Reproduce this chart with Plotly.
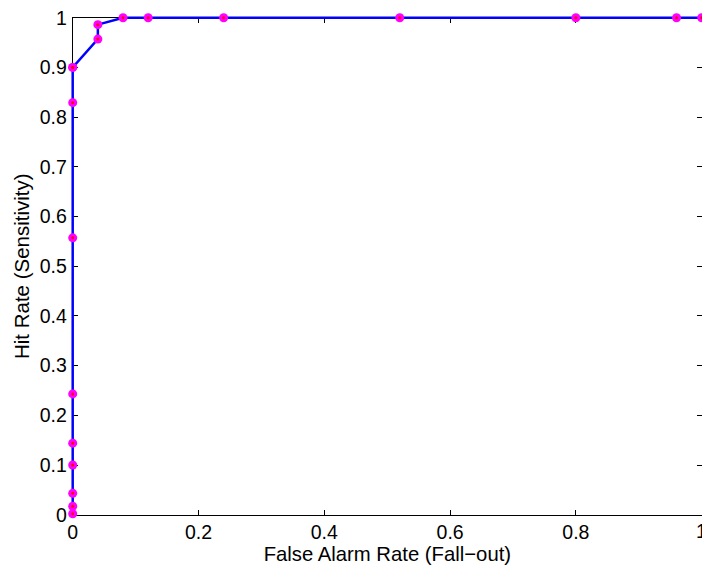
import plotly.graph_objects as go

# ROC operating points
false_alarm = [0, 0, 0, 0, 0, 0, 0, 0, 0, 0, 0.04, 0.04, 0.08, 0.12, 0.24, 0.52, 0.80, 0.96, 1.0]
hit_rate = [0.002, 0.017, 0.043, 0.100, 0.144, 0.243, 0.557, 0.829, 0.900, 0.900,
            0.957, 0.986, 1.0, 1.0, 1.0, 1.0, 1.0, 1.0, 1.0]

x_ticks = [0, 0.2, 0.4, 0.6, 0.8, 1]
x_tick_text = ["0", "0.2", "0.4", "0.6", "0.8", "1"]
y_ticks = [0, 0.1, 0.2, 0.3, 0.4, 0.5, 0.6, 0.7, 0.8, 0.9, 1]
y_tick_text = ["0", "0.1", "0.2", "0.3", "0.4", "0.5", "0.6", "0.7", "0.8", "0.9", "1"]

FONT = "Liberation Sans, Arial, sans-serif"
TICK_SIZE = 19.5

# page geometry (px)
W, H = 702, 567
M_L, M_R, M_T, M_B = 70, 0, 15, 49
AX_LEFT = 72.7                      # where x = 0 falls
AX_TOP, AX_BOTTOM = 17.7, 514.7     # where y = 1 and y = 0 fall
X_HI = 1.0005                       # x value at the right page edge

plot_w = W - M_L - M_R
plot_h = H - M_T - M_B
px_per_x = (W - M_R - AX_LEFT) / X_HI
px_per_y = AX_BOTTOM - AX_TOP

# data axes fill the whole plot area, with a little slack so the curve is not
# clipped where it runs along the frame
x_data_range = [-(AX_LEFT - M_L) / px_per_x, X_HI]
y_data_range = [-((H - M_B) - AX_BOTTOM) / px_per_y, 1 + (AX_TOP - M_T) / px_per_y]

# frame axes sit exactly on the 0..1 box
x_frame_domain = [(AX_LEFT - M_L) / plot_w, 1]
y_frame_domain = [((H - M_B) - AX_BOTTOM) / plot_h, ((H - M_B) - AX_TOP) / plot_h]
x_frame_range = [0, X_HI]

fig = go.Figure()

# empty traces for the frame axes
fig.add_trace(go.Scatter(x=[None], y=[None], showlegend=False, hoverinfo="skip"))
fig.add_trace(go.Scatter(x=[None], y=[None], xaxis="x3", yaxis="y3",
                         showlegend=False, hoverinfo="skip"))

# curve with magenta markers
fig.add_trace(go.Scatter(
    x=false_alarm, y=hit_rate, mode="lines+markers", xaxis="x2", yaxis="y2",
    line=dict(color="#0000ff", width=2.5),
    marker=dict(color="#ff00ff", size=9, line=dict(width=0)),
    cliponaxis=False, showlegend=False, hoverinfo="skip",
))
# red centre dots
fig.add_trace(go.Scatter(
    x=false_alarm, y=hit_rate, mode="markers", xaxis="x2", yaxis="y2",
    marker=dict(color="#ff0000", size=3, line=dict(width=0)),
    cliponaxis=False, showlegend=False, hoverinfo="skip",
))

axis_common = dict(
    ticks="inside", ticklen=5, tickwidth=1, tickcolor="#000000",
    showgrid=False, zeroline=False, fixedrange=True,
)

fig.update_layout(
    width=W, height=H,
    margin=dict(l=M_L, r=M_R, t=M_T, b=M_B),
    paper_bgcolor="white", plot_bgcolor="rgba(0,0,0,0)",
    font=dict(family=FONT, color="#000000", size=TICK_SIZE),
    xaxis=dict(
        domain=x_frame_domain, range=x_frame_range, anchor="y",
        tickvals=x_ticks[:-1], ticktext=x_tick_text[:-1],
        showline=True, linecolor="#000000", linewidth=1,
        tickfont=dict(size=TICK_SIZE),
        title=dict(text="False Alarm Rate (Fall\u2212out)", font=dict(size=20.3), standoff=0),
        **axis_common,
    ),
    yaxis=dict(
        domain=y_frame_domain, range=[0, 1], anchor="x",
        tickvals=y_ticks, ticktext=y_tick_text,
        showline=True, linecolor="#000000", linewidth=1,
        tickfont=dict(size=TICK_SIZE), ticklabelstandoff=1,
        title=dict(text="Hit Rate (Sensitivity)", font=dict(size=20.5), standoff=4),
        **axis_common,
    ),
    xaxis3=dict(
        range=x_frame_range, tickvals=x_ticks, showticklabels=False,
        overlaying="x", side="top", anchor="y3",
        showline=True, linecolor="#000000", linewidth=1,
        **axis_common,
    ),
    yaxis3=dict(
        range=[0, 1], tickvals=y_ticks, showticklabels=False,
        overlaying="y", side="right", anchor="x3",
        showline=False,
        **axis_common,
    ),
    xaxis2=dict(domain=[0, 1], range=x_data_range, anchor="y2", visible=False,
                fixedrange=True),
    yaxis2=dict(domain=[0, 1], range=y_data_range, anchor="x2", visible=False,
                fixedrange=True),
)

# last x tick label sits on the page edge, so place it explicitly
fig.add_annotation(
    x=x_ticks[-1], y=0, xref="x", yref="y", text=x_tick_text[-1],
    showarrow=False, xanchor="center", yanchor="top", yshift=-3,
    font=dict(family=FONT, size=TICK_SIZE, color="#000000"),
)

fig.write_html("out.html")
